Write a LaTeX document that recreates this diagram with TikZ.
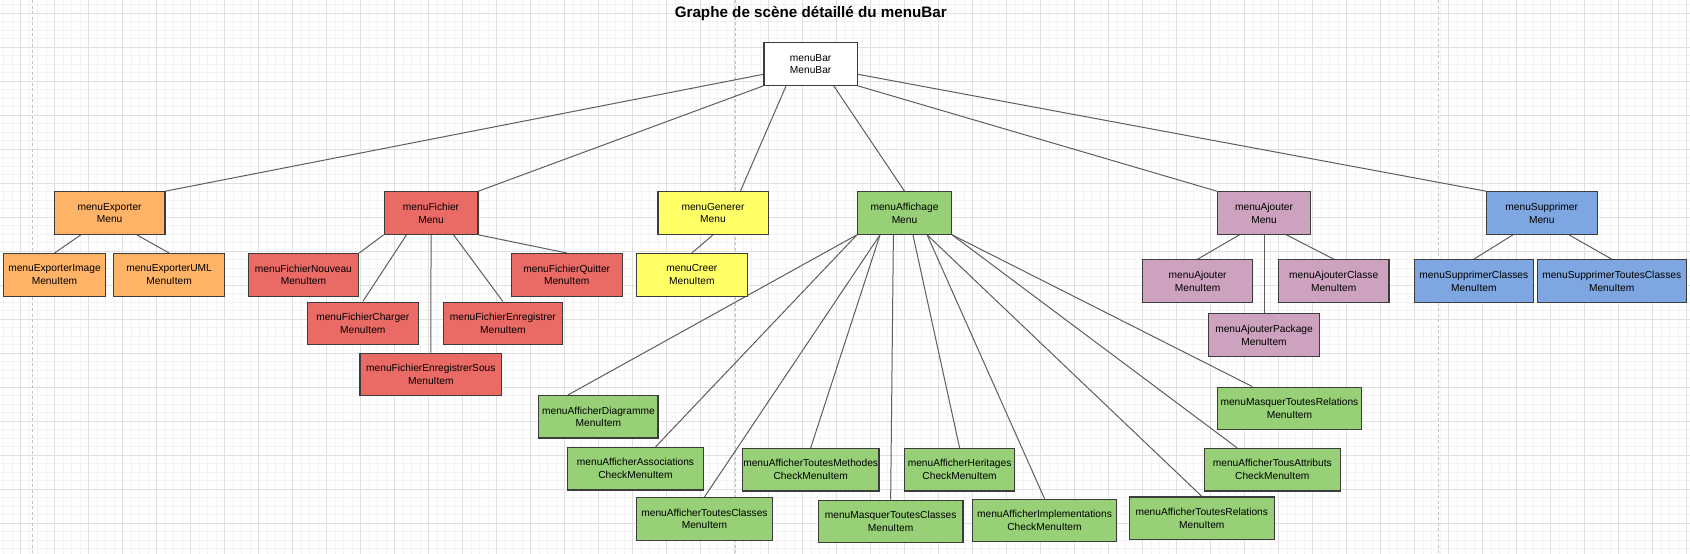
\documentclass[tikz,border=0pt]{standalone}
\usepackage{fontspec}
\setmainfont{Liberation Sans}
\usetikzlibrary{calc}
\pgfdeclarelayer{bg}
\pgfdeclarelayer{edgelayer}
\pgfsetlayers{bg,edgelayer,main}
\definecolor{cOrange}{HTML}{FFB366}
\definecolor{cRed}{HTML}{EA6B66}
\definecolor{cYellow}{HTML}{FFFF66}
\definecolor{cGreen}{HTML}{97D077}
\definecolor{cPink}{HTML}{CDA2BE}
\definecolor{cBlue}{HTML}{7EA6E0}
\definecolor{boxline}{HTML}{3C3C3C}
\definecolor{edgecol}{HTML}{5E5E5E}
\definecolor{gridminor}{HTML}{F2F2F2}
\definecolor{gridmajor}{HTML}{E0E0E0}
\definecolor{pagebreak}{HTML}{C4C4C4}
\newcommand\mybox[6]{\node[box,fill=#2,minimum width=#3pt] (#1) at (#4,#5) {#6};}
\begin{document}
\begin{tikzpicture}[x=1pt,y=-1pt,
  box/.style={draw=boxline,line width=1.2pt,minimum height=42.5pt,inner sep=0pt,align=center,font=\fontsize{10.2}{12.8}\selectfont},
  edge/.style={draw=edgecol,line width=1pt},
  minorline/.style={draw=gridminor,line width=0.8pt},
  majorline/.style={draw=gridmajor,line width=0.9pt},
  pageline/.style={draw=pagebreak,line width=0.8pt,dash pattern=on 3pt off 2.5pt}]
\useasboundingbox (0,0) rectangle (1690,554);
\begin{pgfonlayer}{bg}
  \fill[white] (0,0) rectangle (1690,554);
  \foreach \i in {-2,...,197} {\draw[minorline] ({20.7+8.5*\i},0) -- ({20.7+8.5*\i},554);}
  \foreach \i in {-1,...,64} {\draw[minorline] (0,{13.3+8.5*\i}) -- (1690,{13.3+8.5*\i});}
  \foreach \i in {0,...,49} {\draw[majorline] ({20.7+34*\i},0) -- ({20.7+34*\i},554);}
  \foreach \i in {0,...,16} {\draw[majorline] (0,{13.3+34*\i}) -- (1690,{13.3+34*\i});}
  \foreach \x in {32.3,735.3,1438.6} {\draw[pageline] (\x,0) -- (\x,554);}
\end{pgfonlayer}

\node[anchor=base,inner sep=0pt,font=\fontsize{15.2}{18}\selectfont\bfseries] (title) at (810.8,17.3) {Graphe de scène détaillé du menuBar};

\mybox{bar}{white}{93.3}{810.65}{64}{menuBar\\MenuBar}

\mybox{exp}{cOrange}{110.6}{109.6}{213}{menuExporter\\Menu}
\mybox{expImg}{cOrange}{102.2}{54.5}{274.85}{menuExporterImage\\MenuItem}
\mybox{expUML}{cOrange}{111}{169.1}{274.85}{menuExporterUML\\MenuItem}

\mybox{fic}{cRed}{93.7}{431.05}{213}{menuFichier\\Menu}
\mybox{ficNouveau}{cRed}{110.3}{303.45}{274.85}{menuFichierNouveau\\MenuItem}
\mybox{ficCharger}{cRed}{111}{362.8}{323.35}{menuFichierCharger\\MenuItem}
\mybox{ficEnreg}{cRed}{119.2}{502.9}{323.35}{menuFichierEnregistrer\\MenuItem}
\mybox{ficEnregSous}{cRed}{141.7}{430.85}{374.35}{menuFichierEnregistrerSous\\MenuItem}
\mybox{ficQuitter}{cRed}{111.1}{566.75}{274.85}{menuFichierQuitter\\MenuItem}

\mybox{gen}{cYellow}{110.2}{713}{213}{menuGenerer\\Menu}
\mybox{creer}{cYellow}{110.7}{691.85}{274.85}{menuCreer\\MenuItem}

\mybox{aff}{cGreen}{94}{904.5}{213}{menuAffichage\\Menu}
\mybox{affDiag}{cGreen}{119.2}{598.4}{416.8}{menuAfficherDiagramme\\MenuItem}
\mybox{affAssoc}{cGreen}{136.2}{635.5}{468.65}{menuAfficherAssociations\\CheckMenuItem}
\mybox{affTClasses}{cGreen}{135.7}{704.45}{518.85}{menuAfficherToutesClasses\\MenuItem}
\mybox{affTMeth}{cGreen}{136.6}{810.7}{469.7}{menuAfficherToutesMethodes\\CheckMenuItem}
\mybox{affHerit}{cGreen}{110.2}{959.6}{469.7}{menuAfficherHeritages\\CheckMenuItem}
\mybox{masqTClasses}{cGreen}{144.7}{890.65}{521.5}{menuMasquerToutesClasses\\MenuItem}
\mybox{affImpl}{cGreen}{144.4}{1044.5}{520.5}{menuAfficherImplementations\\CheckMenuItem}
\mybox{affTRel}{cGreen}{144.9}{1201.75}{518.15}{menuAfficherToutesRelations\\MenuItem}
\mybox{affTAttr}{cGreen}{136.2}{1272.3}{469.7}{menuAfficherTousAttributs\\CheckMenuItem}
\mybox{masqTRel}{cGreen}{144.1}{1289.45}{408.5}{menuMasquerToutesRelations\\MenuItem}

\mybox{ajo}{cPink}{93.3}{1264.05}{213}{menuAjouter\\Menu}
\mybox{ajoItem}{cPink}{110.3}{1197.65}{281}{menuAjouter\\MenuItem}
\mybox{ajoClasse}{cPink}{110.6}{1333.7}{281}{menuAjouterClasse\\MenuItem}
\mybox{ajoPkg}{cPink}{110.7}{1264.05}{335}{menuAjouterPackage\\MenuItem}

\mybox{sup}{cBlue}{110.7}{1541.75}{213}{menuSupprimer\\Menu}
\mybox{supClasses}{cBlue}{119.3}{1473.85}{281}{menuSupprimerClasses\\MenuItem}
\mybox{supTClasses}{cBlue}{149}{1611.7}{281}{menuSupprimerToutesClasses\\MenuItem}

\begin{pgfonlayer}{edgelayer}
  % menuBar children
  \draw[edge] ($(bar.west)+(0,10.3)$) -- (exp.north east);
  \draw[edge] (bar.south west) -- (fic.north east);
  \draw[edge] ($(bar.south west)+(22.7,0)$) -- ($(gen.north west)+(83.1,0)$);
  \draw[edge] ($(bar.south west)+(70.3,0)$) -- (aff.north);
  \draw[edge] (bar.south east) -- (ajo.north west);
  \draw[edge] ($(bar.east)+(0,10.3)$) -- (sup.north west);
  % menuExporter
  \draw[edge] ($(exp.south west)+(27.2,0)$) -- (expImg.north);
  \draw[edge] ($(exp.south west)+(83.1,0)$) -- (expUML.north);
  % menuFichier
  \draw[edge] (fic.south west) -- (ficNouveau.north east);
  \draw[edge] ($(fic.south west)+(22.9,0)$) -- (ficCharger.north);
  \draw[edge] (fic.south) -- (ficEnregSous.north);
  \draw[edge] ($(fic.south west)+(70,0)$) -- (ficEnreg.north);
  \draw[edge] (fic.south east) -- (ficQuitter.north);
  % menuGenerer
  \draw[edge] (gen.south) -- (creer.north);
  % menuAffichage
  \draw[edge] (aff.south west) -- ($(affDiag.north west)+(29.8,0)$);
  \draw[edge] (aff.south west) -- ($(affAssoc.north west)+(88.8,0)$);
  \draw[edge] ($(aff.south west)+(23.1,0)$) -- (affTClasses.north);
  \draw[edge] ($(aff.south west)+(23.1,0)$) -- (affTMeth.north);
  \draw[edge] ($(aff.south west)+(36.5,0)$) -- (masqTClasses.north);
  \draw[edge] ($(aff.south west)+(56,0)$) -- (affHerit.north);
  \draw[edge] ($(aff.south west)+(70.2,0)$) -- (affImpl.north);
  \draw[edge] ($(aff.south west)+(70.2,0)$) -- (affTRel.north);
  \draw[edge] (aff.south east) -- ($(affTAttr.north west)+(33.5,0)$);
  \draw[edge] (aff.south east) -- ($(masqTRel.north west)+(35.7,0)$);
  % menuAjouter
  \draw[edge] ($(ajo.south west)+(22.6,0)$) -- (ajoItem.north);
  \draw[edge] ($(ajo.south west)+(69.6,0)$) -- (ajoClasse.north);
  \draw[edge] (ajo.south) -- (ajoPkg.north);
  % menuSupprimer
  \draw[edge] ($(sup.south west)+(27.1,0)$) -- (supClasses.north);
  \draw[edge] ($(sup.south west)+(83.2,0)$) -- (supTClasses.north);
\end{pgfonlayer}
\end{tikzpicture}
\end{document}
